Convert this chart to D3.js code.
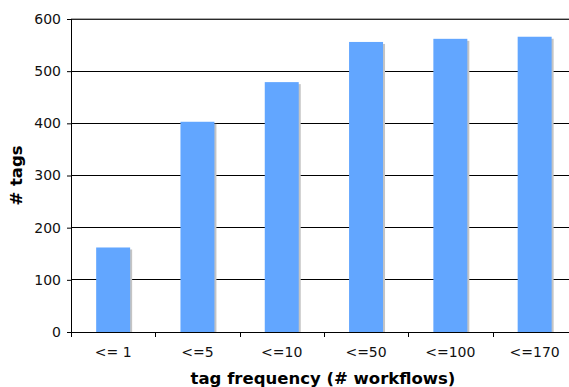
<!DOCTYPE html>
<html><head><meta charset="utf-8">
<script src="https://cdn.jsdelivr.net/npm/d3@7"></script>
<style>body{margin:0;background:#fff}svg{display:block}text{font-family:"DejaVu Sans",Verdana,sans-serif}</style>
</head><body>
<svg id="c" width="569" height="387"></svg>
<script>
const categories = ["<= 1", "<=5", "<=10", "<=50", "<=100", "<=170"];
const tagCounts = [162, 403, 479, 556, 562, 566];
const yTicks = [0, 100, 200, 300, 400, 500, 600];

(function () {
const svg = d3.select("#c");
const mLeft = 71, mTop = 19, mBottom = 332, step = 84.3;
const x = d3.scaleBand().domain(categories).range([mLeft, mLeft + step * categories.length]).paddingInner(0.597).paddingOuter(0.2985);
const y = d3.scaleLinear().domain([0, 600]).range([mBottom, mTop]);

// gridlines
svg.append("g").selectAll("line").data(yTicks.filter(d => d > 0 && d < 600)).join("line")
  .attr("x1", mLeft).attr("x2", 569).attr("y1", d => y(d)).attr("y2", d => y(d))
  .attr("stroke", "#000").attr("stroke-width", 1).attr("shape-rendering", "crispEdges");
// top border
svg.append("line").attr("x1", mLeft).attr("x2", 569).attr("y1", y(600)+0.5).attr("y2", y(600)+0.5)
  .attr("stroke", "#2a2a2a").attr("stroke-width", 1);
svg.append("line").attr("x1", mLeft).attr("x2", 569).attr("y1", y(600)-0.5).attr("y2", y(600)-0.5)
  .attr("stroke", "#aaa").attr("stroke-width", 1);

// shadows
svg.append("g").selectAll("rect").data(tagCounts).join("rect")
  .attr("x", (d, i) => x(categories[i]) + 2).attr("y", d => y(d) + 2)
  .attr("width", x.bandwidth()).attr("height", d => mBottom - y(d) - 2)
  .attr("fill", "#c4c4c4");
// bars
svg.append("g").selectAll("rect").data(tagCounts).join("rect")
  .attr("x", (d, i) => x(categories[i])).attr("y", d => y(d))
  .attr("width", x.bandwidth()).attr("height", d => mBottom - y(d))
  .attr("fill", "#62a6ff");

// y axis
const yAxis = d3.axisLeft(y).tickValues(yTicks).tickSize(4).tickPadding(6);
const gy = svg.append("g").attr("transform", `translate(${mLeft},0)`).call(yAxis);
gy.select(".domain").attr("stroke", "#000").attr("d", `M0.5,${mTop}V${mBottom}`);
gy.selectAll(".tick line").attr("stroke", "#000");
gy.selectAll("text").attr("font-size", 14).attr("fill", "#111").attr("font-family", "DejaVu Sans");

// x axis
const gx = svg.append("g").attr("transform", `translate(0,${mBottom})`);
gx.append("line").attr("x1", mLeft).attr("x2", 569).attr("y1", 0.5).attr("y2", 0.5).attr("stroke", "#000");
gx.selectAll("line.t").data(d3.range(categories.length + 1)).join("line").attr("class", "t")
  .attr("x1", i => Math.round(mLeft + i * step) + 0.5).attr("x2", i => Math.round(mLeft + i * step) + 0.5)
  .attr("y1", 0).attr("y2", 5).attr("stroke", "#000");
gx.selectAll("text").data(categories).join("text")
  .attr("x", d => x(d) + x.bandwidth() / 2).attr("y", 25)
  .attr("text-anchor", "middle").attr("font-size", 14).attr("fill", "#111").text(d => d);

// titles
svg.append("text").attr("x", 323).attr("y", 384).attr("text-anchor", "middle")
  .attr("font-size", 16.5).attr("font-weight", "bold").attr("fill", "#000").text("tag frequency (# workflows)");
svg.append("text").attr("transform", `translate(22,${(mTop + mBottom) / 2}) rotate(-90)`).attr("text-anchor", "middle")
  .attr("font-size", 16.5).attr("font-weight", "bold").attr("fill", "#000").text("# tags");
})();
</script>
</body></html>
